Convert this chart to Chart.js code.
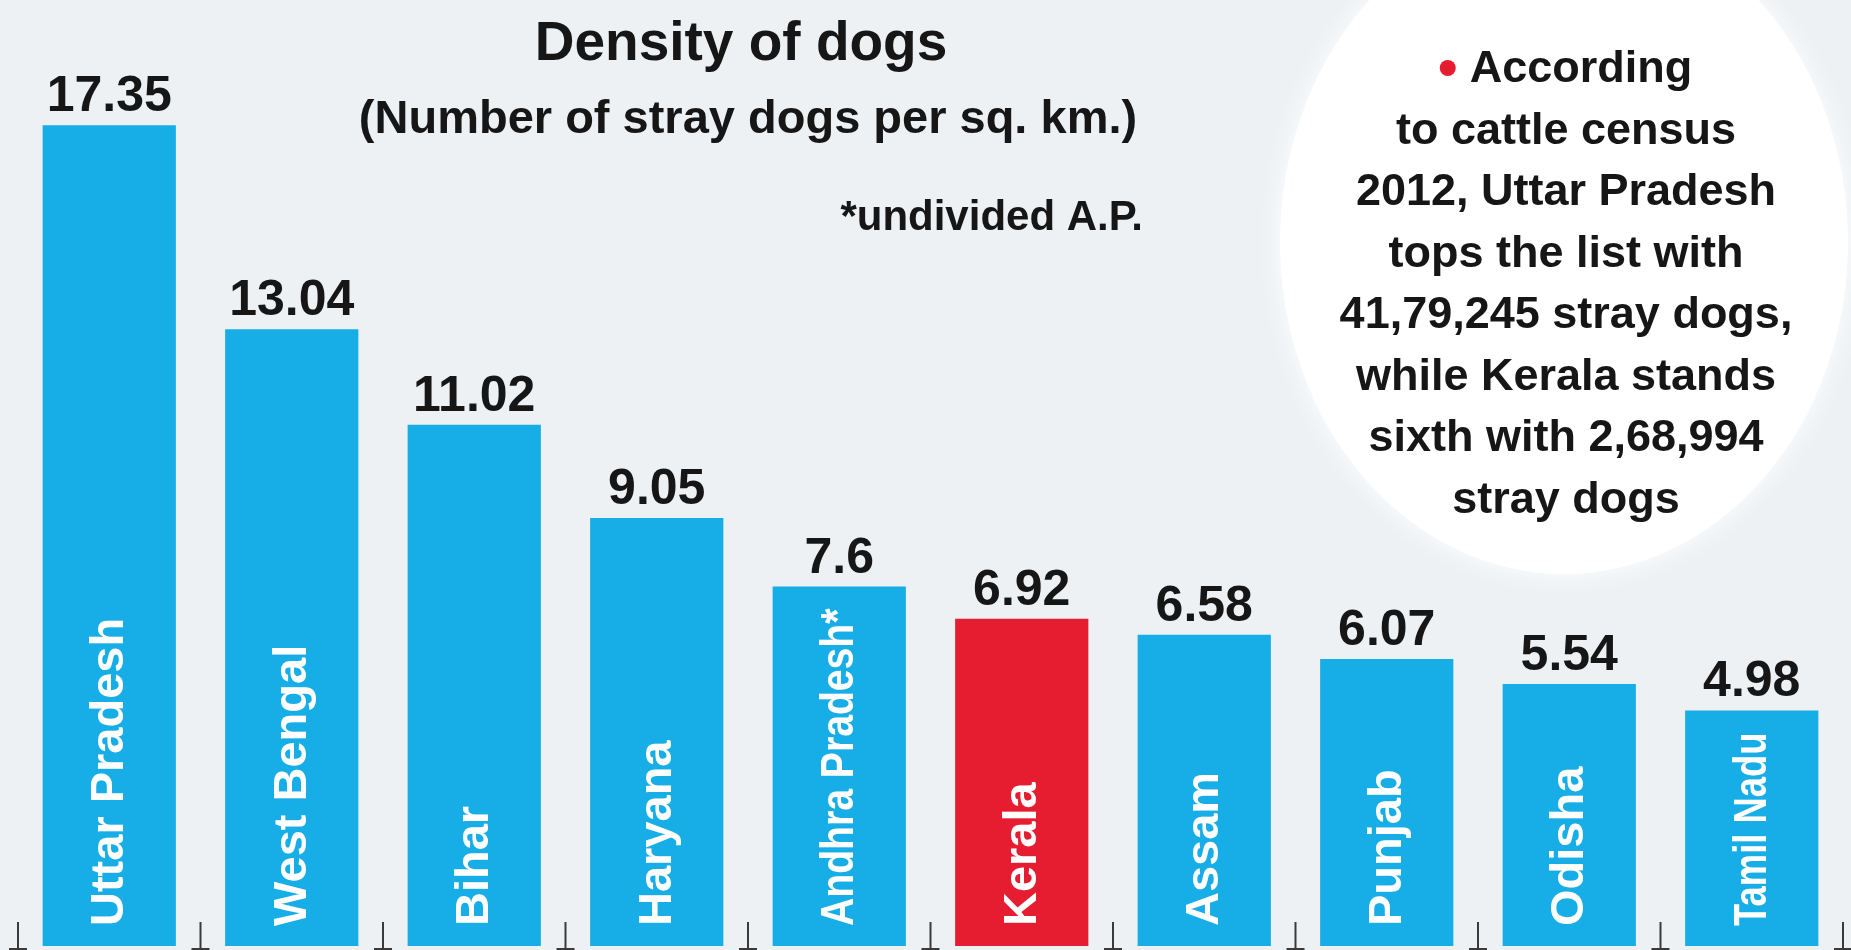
<!DOCTYPE html>
<html>
<head>
<meta charset="utf-8">
<title>Density of dogs</title>
<script src="https://cdn.jsdelivr.net/npm/chart.js@4.4.0/dist/chart.umd.min.js"></script>
<style>
  html, body { margin: 0; padding: 0; background: #edf1f4; }
  #wrap { width: 1851px; height: 950px; }
</style>
</head>
<body>
<div id="wrap"><canvas id="dogChart" width="1851" height="950"></canvas></div>
<script>
  // data
  const states = ['Uttar Pradesh', 'West Bengal', 'Bihar', 'Haryana', 'Andhra Pradesh*', 'Kerala', 'Assam', 'Punjab', 'Odisha', 'Tamil Nadu'];
  const density = [17.35, 13.04, 11.02, 9.05, 7.6, 6.92, 6.58, 6.07, 5.54, 4.98];
  const highlighted = 'Kerala';

  const titleText = 'Density of dogs';
  const subtitleText = '(Number of stray dogs per sq. km.)';
  const footnote = '*undivided A.P.';
  const noteLines = ['According', 'to cattle census', '2012, Uttar Pradesh', 'tops the list with',
    '41,79,245 stray dogs,', 'while Kerala stands', 'sixth with 2,68,994', 'stray dogs'];

  const BLUE = '#17ade6';
  const RED = '#e61c30';
  const INK = '#161616';
  const SANS = '"Liberation Sans", Arial, sans-serif';

  // background, note bubble, labels, ticks
  const decor = {
    id: 'decor',
    beforeDraw(chart) {
      const ctx = chart.ctx;
      ctx.save();
      ctx.fillStyle = '#edf1f4';
      ctx.fillRect(0, 0, chart.width, chart.height);
      ctx.shadowColor = 'rgba(255,255,255,0.95)';
      ctx.shadowBlur = 28;
      ctx.fillStyle = '#ffffff';
      ctx.beginPath();
      ctx.ellipse(1564, 242, 284, 332, 0, 0, Math.PI * 2);
      ctx.fill();
      ctx.restore();
    },
    afterDatasetsDraw(chart) {
      const ctx = chart.ctx;
      const bars = chart.getDatasetMeta(0).data;
      const area = chart.chartArea;
      const xs = chart.scales.x;
      ctx.save();

      // small tick marks between the bars
      ctx.strokeStyle = '#3a3a3a';
      ctx.lineWidth = 2;
      for (let i = 0; i <= states.length; i++) {
        let x;
        if (i === 0) x = area.left;
        else if (i === states.length) x = area.right;
        else x = (xs.getPixelForValue(i - 1) + xs.getPixelForValue(i)) / 2;
        ctx.beginPath();
        ctx.moveTo(x, area.bottom - 24);
        ctx.lineTo(x, area.bottom + 3);
        ctx.moveTo(x - 9, area.bottom + 3);
        ctx.lineTo(x + 9, area.bottom + 3);
        ctx.stroke();
      }

      bars.forEach((bar, i) => {
        const name = states[i];
        // state name inside the bar, squeezed if the bar is short
        ctx.save();
        ctx.translate(bar.x, bar.base - 20);
        ctx.rotate(-Math.PI / 2);
        ctx.fillStyle = '#ffffff';
        ctx.font = 'bold 47px ' + SANS;
        ctx.textAlign = 'left';
        ctx.textBaseline = 'middle';
        ctx.fillText(name, 0, 1, bar.base - bar.y - 42);
        ctx.restore();
        // value on top
        ctx.fillStyle = INK;
        ctx.font = 'bold 50px ' + SANS;
        ctx.textAlign = 'center';
        ctx.textBaseline = 'alphabetic';
        ctx.fillText(String(density[i]), bar.x, bar.y - 14);
      });

      // headings
      ctx.fillStyle = INK;
      ctx.textAlign = 'center';
      ctx.font = 'bold 55px ' + SANS;
      ctx.fillText(titleText, 741, 60);
      ctx.font = 'bold 47px ' + SANS;
      ctx.fillText(subtitleText, 748, 133);
      ctx.textAlign = 'right';
      ctx.font = 'bold 42px ' + SANS;
      ctx.fillText(footnote, 1143, 230);

      // note in the bubble
      ctx.font = 'bold 45px ' + SANS;
      ctx.textBaseline = 'middle';
      ctx.textAlign = 'center';
      const cx = 1566;
      noteLines.forEach((line, i) => {
        const y = 70 + i * 61.5;
        if (i === 0) {
          const w = ctx.measureText(line).width;
          const left = cx - (w + 30) / 2;
          ctx.fillStyle = RED;
          ctx.beginPath();
          ctx.arc(left + 8, y - 2, 8, 0, Math.PI * 2);
          ctx.fill();
          ctx.fillStyle = INK;
          ctx.textAlign = 'left';
          ctx.fillText(line, left + 30, y);
          ctx.textAlign = 'center';
        } else {
          ctx.fillText(line, cx, y);
        }
      });
      ctx.restore();
    }
  };

  const data = {
    labels: states,
    datasets: [{
      data: density,
      backgroundColor: states.map(s => s === highlighted ? RED : BLUE),
      borderWidth: 0,
      barPercentage: 0.73,
      categoryPercentage: 1
    }]
  };

  const config = {
    type: 'bar',
    data: data,
    plugins: [decor],
    options: {
      responsive: false,
      animation: false,
      layout: { padding: { left: 18, right: 8, top: 0, bottom: 4 } },
      plugins: {
        legend: { display: false },
        tooltip: { enabled: false }
      },
      scales: {
        x: { display: false },
        y: { display: false, min: 0, max: 20 }
      }
    }
  };

  new Chart(document.getElementById('dogChart'), config);
</script>
</body>
</html>
